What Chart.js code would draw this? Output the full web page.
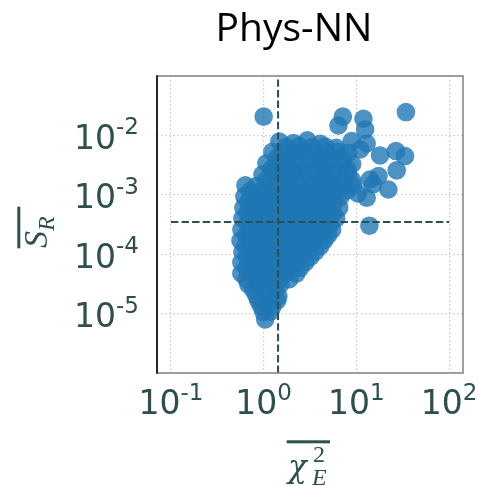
<!DOCTYPE html>
<html>
<head>
<meta charset="utf-8">
<script src="https://cdn.jsdelivr.net/npm/chart.js@4.4.0/dist/chart.umd.min.js"></script>
<style>
  html, body { margin: 0; padding: 0; background: #fff; }
  #wrap { width: 479px; height: 486px; }
</style>
</head>
<body>
<div id="wrap"><canvas id="chart" width="479" height="486"></canvas></div>
<script>
// values (x = mean chi^2_E, y = mean S_R)
const chiE = [
  1.475, 2.09, 2.95, 4.07,
  1.75, 2.42, 3.34, 4.61, 6.05,
  1.24, 1.59, 2.09, 2.74, 3.60, 4.72, 6.20, 8.14,
  1.40, 1.84, 2.42, 3.18, 4.17, 5.48, 7.19,
  1.07, 1.37, 1.80, 2.36, 3.10, 4.07, 5.34, 7.02, 8.99,
  1.21, 1.59, 2.04, 2.67, 3.51, 4.61, 6.05, 7.94,
  0.969, 1.24, 1.59, 2.09, 2.74, 3.60, 4.72, 6.20, 8.14,
  1.07, 1.40, 1.84, 2.42, 3.18, 4.17, 5.48, 7.19, 8.99,
  0.636, 0.835, 1.10, 1.44, 1.89, 2.48, 3.26, 4.28, 5.62, 7.38, 9.21,
  0.719, 0.922, 1.21, 1.59, 2.09, 2.74, 3.60, 4.72, 6.20, 7.94,
  0.620, 0.794, 1.017, 1.30, 1.71, 2.25, 2.95, 3.87, 5.09, 6.68,
  0.685, 0.899, 1.15, 1.475, 1.94, 2.54, 3.34, 4.38, 5.76,
  0.605, 0.775, 0.993, 1.27, 1.67, 2.19, 2.88, 3.78, 4.96, 6.52,
  0.668, 0.877, 1.12, 1.44, 1.89, 2.48, 3.26, 4.28, 5.62,
  0.590, 0.756, 0.969, 1.24, 1.59, 2.09, 2.74, 3.60, 4.72, 6.05,
  0.668, 0.856, 1.10, 1.40, 1.84, 2.36, 3.10, 4.07, 5.21,
  0.575, 0.738, 0.945, 1.21, 1.55, 2.04, 2.67, 3.51, 4.50, 5.48,
  0.652, 0.835, 1.07, 1.37, 1.80, 2.36, 3.10, 3.97, 4.96,
  0.562, 0.719, 0.922, 1.18, 1.55, 2.04, 2.67, 3.51, 4.50,
  0.636, 0.814, 1.04, 1.37, 1.80, 2.36, 3.10, 4.07,
  0.590, 0.756, 0.969, 1.24, 1.59, 2.09, 2.74, 3.60,
  0.668, 0.856, 1.12, 1.475, 1.94, 2.48, 3.18,
  0.575, 0.756, 0.993, 1.30, 1.71, 2.25, 2.81,
  0.652, 0.856, 1.12, 1.475, 1.94, 2.48,
  0.575, 0.756, 0.993, 1.30, 1.71, 2.25,
  0.652, 0.856, 1.12, 1.475, 1.89,
  0.685, 0.899, 1.18, 1.51,
  0.775, 1.017, 1.34,
  0.835, 1.10, 1.44,
  0.877, 1.15, 1.40,
  0.945, 1.24,
  0.993, 1.18,
  1.04,
  1.00, 7.14, 6.40, 11.9, 12.4, 34.2, 12.9, 11.0, 8.9, 18.0, 26.7, 33.4,
  27.2, 17.3, 14.0, 15.1, 22.1, 12.9, 10.4, 13.8
];
const sR = [
  7.9e-3, 7.4e-3, 8.3e-3, 7.2e-3,
  6.4e-3, 6.6e-3, 6.3e-3, 6.5e-3, 6.2e-3,
  5.3e-3, 5.1e-3, 5.2e-3, 5.4e-3, 5.0e-3, 5.2e-3, 5.3e-3, 5.1e-3,
  4.2e-3, 4.1e-3, 4.3e-3, 4.2e-3, 4.1e-3, 4.2e-3, 4.3e-3,
  3.4e-3, 3.5e-3, 3.3e-3, 3.4e-3, 3.5e-3, 3.3e-3, 3.4e-3, 3.5e-3, 3.3e-3,
  2.7e-3, 2.8e-3, 2.7e-3, 2.75e-3, 2.7e-3, 2.8e-3, 2.7e-3, 2.75e-3,
  2.2e-3, 2.3e-3, 2.1e-3, 2.2e-3, 2.3e-3, 2.2e-3, 2.1e-3, 2.2e-3, 2.3e-3,
  1.78e-3, 1.75e-3, 1.8e-3, 1.78e-3, 1.76e-3, 1.8e-3, 1.77e-3, 1.79e-3, 1.76e-3,
  1.44e-3, 1.40e-3, 1.48e-3, 1.44e-3, 1.40e-3, 1.46e-3, 1.42e-3, 1.44e-3, 1.38e-3, 1.45e-3, 1.42e-3,
  1.16e-3, 1.14e-3, 1.17e-3, 1.15e-3, 1.16e-3, 1.18e-3, 1.15e-3, 1.16e-3, 1.14e-3, 1.17e-3,
  9.4e-4, 9.2e-4, 9.6e-4, 9.4e-4, 9.1e-4, 9.5e-4, 9.3e-4, 9.4e-4, 9.6e-4, 9.2e-4,
  7.6e-4, 7.7e-4, 7.5e-4, 7.6e-4, 7.7e-4, 7.5e-4, 7.6e-4, 7.7e-4, 7.5e-4,
  6.1e-4, 6.2e-4, 6.0e-4, 6.1e-4, 6.3e-4, 6.0e-4, 6.1e-4, 6.2e-4, 6.0e-4, 6.1e-4,
  4.96e-4, 5.0e-4, 4.9e-4, 4.96e-4, 5.05e-4, 4.9e-4, 5.0e-4, 4.95e-4, 4.9e-4,
  4.0e-4, 4.1e-4, 3.9e-4, 4.0e-4, 4.1e-4, 4.0e-4, 3.9e-4, 4.0e-4, 4.1e-4, 4.0e-4,
  3.24e-4, 3.2e-4, 3.3e-4, 3.24e-4, 3.2e-4, 3.28e-4, 3.22e-4, 3.25e-4, 3.2e-4,
  2.6e-4, 2.7e-4, 2.6e-4, 2.5e-4, 2.6e-4, 2.7e-4, 2.6e-4, 2.5e-4, 2.6e-4, 2.6e-4,
  2.11e-4, 2.15e-4, 2.08e-4, 2.11e-4, 2.14e-4, 2.1e-4, 2.12e-4, 2.08e-4, 2.11e-4,
  1.7e-4, 1.75e-4, 1.7e-4, 1.65e-4, 1.7e-4, 1.75e-4, 1.7e-4, 1.65e-4, 1.7e-4,
  1.38e-4, 1.36e-4, 1.4e-4, 1.38e-4, 1.37e-4, 1.4e-4, 1.38e-4, 1.36e-4,
  1.1e-4, 1.12e-4, 1.08e-4, 1.1e-4, 1.13e-4, 1.1e-4, 1.08e-4, 1.1e-4,
  9.0e-5, 8.8e-5, 9.1e-5, 9.0e-5, 8.9e-5, 9.1e-5, 9.0e-5,
  7.3e-5, 7.5e-5, 7.2e-5, 7.3e-5, 7.4e-5, 7.2e-5, 7.3e-5,
  5.88e-5, 5.9e-5, 5.8e-5, 5.9e-5, 5.85e-5, 5.9e-5,
  4.75e-5, 4.8e-5, 4.7e-5, 4.75e-5, 4.8e-5, 4.7e-5,
  3.84e-5, 3.8e-5, 3.9e-5, 3.84e-5, 3.8e-5,
  3.1e-5, 3.15e-5, 3.05e-5, 3.1e-5,
  2.5e-5, 2.48e-5, 2.52e-5,
  2.0e-5, 2.05e-5, 1.95e-5,
  1.64e-5, 1.62e-5, 1.66e-5,
  1.32e-5, 1.30e-5,
  1.07e-5, 1.08e-5,
  8.0e-6,
  2.07e-2, 2.07e-2, 1.47e-2, 1.91e-2, 1.26e-2, 2.47e-2, 7.3e-3, 5.8e-3, 8.0e-3, 4.6e-3, 5.45e-3, 4.49e-3,
  2.58e-3, 2.07e-3, 1.81e-3, 1.5e-3, 1.23e-3, 8.93e-4, 1.05e-3, 3.02e-4
];

// axis limits, ticks and reference lines
const xLim = [0.0708, 141];
const yLim = [1e-6, 1e-1];
const xTicks = [0.1, 1, 10, 100];
const yTicks = [1e-5, 1e-4, 1e-3, 1e-2];
const xMean = 1.43;
const yMean = 3.5e-4;
const hLineX = [0.1, 100];
const vLineY = [1e-6, 0.09];

const slate = '#2f4f4f';

function powLabel(ctx, exp, x, y, align) {
  ctx.font = '33px "DejaVu Sans"';
  const w1 = ctx.measureText('10').width;
  ctx.font = '23px "DejaVu Sans"';
  const w2 = ctx.measureText(exp).width;
  let x0 = align === 'right' ? x - w1 - w2 : x - (w1 + w2) / 2;
  ctx.textAlign = 'left';
  ctx.textBaseline = 'alphabetic';
  ctx.fillStyle = slate;
  ctx.font = '33px "DejaVu Sans"';
  ctx.fillText('10', x0, y);
  ctx.font = '23px "DejaVu Sans"';
  ctx.fillText(exp, x0 + w1, y - 14.3);
}

const decor = {
  id: 'decor',
  afterDatasetsDraw(chart) {
    const { ctx, chartArea: a } = chart;
    ctx.save();
    ctx.strokeStyle = '#808080';
    ctx.lineWidth = 1.5;
    ctx.beginPath();
    ctx.moveTo(a.left, a.top);
    ctx.lineTo(a.right, a.top);
    ctx.lineTo(a.right, a.bottom);
    ctx.lineTo(a.left, a.bottom);
    ctx.stroke();
    ctx.strokeStyle = '#262626';
    ctx.lineWidth = 2;
    ctx.beginPath();
    ctx.moveTo(a.left, a.top - 0.75);
    ctx.lineTo(a.left, a.bottom + 0.75);
    ctx.stroke();
    ctx.restore();
  },
  afterDraw(chart) {
    const { ctx } = chart;
    const xs = chart.scales.x, ys = chart.scales.y;
    ctx.save();
    xTicks.forEach(v => {
      powLabel(ctx, String(Math.round(Math.log10(v))), xs.getPixelForValue(v), 414, 'center');
    });
    yTicks.forEach(v => {
      powLabel(ctx, String(Math.round(Math.log10(v))), 139, ys.getPixelForValue(v) + 13.3, 'right');
    });

    // title
    ctx.fillStyle = '#000';
    ctx.font = '39px "Open Sans"';
    ctx.textAlign = 'center';
    ctx.textBaseline = 'alphabetic';
    ctx.fillText('Phys-NN', 294, 41);

    // x axis label: overline chi^2_E
    ctx.fillStyle = slate;
    ctx.fillRect(286.7, 440.3, 43.3, 3);
    ctx.textAlign = 'left';
    ctx.font = 'italic 31px "DejaVu Serif"';
    ctx.fillText('χ', 288, 477);
    ctx.font = '24px "Liberation Serif"';
    ctx.fillText('2', 313, 462);
    ctx.font = 'italic 24px "Liberation Serif"';
    ctx.fillText('E', 312, 485);

    // y axis label: overline S_R
    ctx.fillRect(17.3, 206.7, 3, 41.6);
    ctx.translate(47, 248);
    ctx.rotate(-Math.PI / 2);
    ctx.font = 'italic 34px "Liberation Serif"';
    ctx.fillText('S', 0, 0);
    const ws = ctx.measureText('S').width;
    ctx.font = 'italic 24px "Liberation Serif"';
    ctx.fillText('R', ws, 7);
    ctx.restore();
  }
};

function decadeTicks(list) {
  return function (scale) {
    scale.ticks = list.map(v => ({ value: v }));
  };
}

new Chart(document.getElementById('chart').getContext('2d'), {
  type: 'scatter',
  data: {
    datasets: [
      {
        type: 'line',
        data: [{ x: hLineX[0], y: yMean }, { x: hLineX[1], y: yMean }],
        borderColor: slate,
        borderWidth: 2,
        borderDash: [7.4, 3.2],
        pointRadius: 0,
        order: 0
      },
      {
        type: 'line',
        data: [{ x: xMean, y: vLineY[0] }, { x: xMean, y: vLineY[1] }],
        borderColor: slate,
        borderWidth: 2,
        borderDash: [7.4, 3.2],
        pointRadius: 0,
        order: 0
      },
      {
        data: chiE.map((x, i) => ({ x: x, y: sR[i] })),
        backgroundColor: 'rgba(31,119,180,0.8)',
        borderWidth: 0,
        pointRadius: 9.3,
        pointHoverRadius: 9.3,
        order: 1
      }
    ]
  },
  options: {
    responsive: false,
    animation: false,
    events: [],
    layout: { padding: { left: 157, right: 16, top: 76, bottom: 113 } },
    plugins: { legend: { display: false }, tooltip: { enabled: false } },
    scales: {
      x: {
        type: 'logarithmic',
        min: xLim[0],
        max: xLim[1],
        afterBuildTicks: decadeTicks(xTicks),
        afterFit: s => { s.height = 0; },
        ticks: { display: false },
        grid: { color: '#c8c8c8', lineWidth: 1.2, drawTicks: false },
        border: { display: false, dash: [1.5, 2.5] }
      },
      y: {
        type: 'logarithmic',
        min: yLim[0],
        max: yLim[1],
        afterBuildTicks: decadeTicks(yTicks),
        afterFit: s => { s.width = 0; },
        ticks: { display: false },
        grid: { color: '#c8c8c8', lineWidth: 1.2, drawTicks: false },
        border: { display: false, dash: [1.5, 2.5] }
      }
    }
  },
  plugins: [decor]
});
</script>
</body>
</html>
